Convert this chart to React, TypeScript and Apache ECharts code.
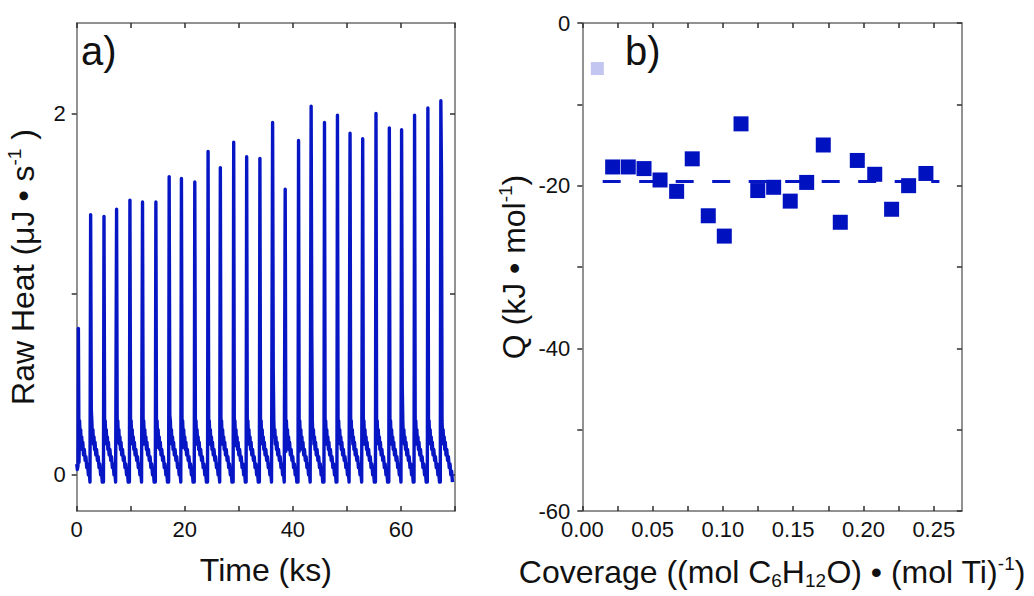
import React, { useEffect, useRef } from "react";
import * as echarts from "echarts";

const FONT = "'Liberation Sans', Arial, Helvetica, sans-serif";
const TRACE_BLUE = "#0716c4";
const POINT_BLUE = "#0012bf";
const FIRST_POINT = "#c2c6f0";
const FRAME = "#6e6e6e";
const TICK = "#2e2e2e";
const TEXT = "#111111";

// ---- (a) raw calorimeter signal: one heat pulse per dose ----
// dose times (ks), peak heights and the level the signal falls to right after each spike (µJ/s)
const pulseTimes = [
  0.31, 2.58, 5.05, 7.38, 9.85, 12.18, 14.65, 17.11, 19.38, 21.85, 24.31, 26.58, 29.05, 31.45,
  33.9, 36.25, 38.58, 41.05, 43.38, 45.85, 48.25, 50.58, 52.92, 55.38, 57.85, 60.12, 62.52,
  64.98, 67.38,
];
const pulsePeaks = [
  0.81, 1.44, 1.43, 1.47, 1.52, 1.51, 1.51, 1.65, 1.64, 1.62, 1.79, 1.7, 1.84, 1.76, 1.75, 1.95,
  1.58, 1.85, 2.04, 1.95, 1.99, 1.89, 1.86, 2.0, 1.92, 1.91, 1.99, 2.03, 2.07,
];
const pulseTails = [
  0.07, 0.36, 0.2, 0.18, 0.2, 0.17, 0.15, 0.33, 0.15, 0.17, 0.17, 0.17, 0.16, 0.17, 0.18, 0.57,
  0.13, 0.13, 0.78, 0.17, 0.2, 0.22, 0.17, 0.2, 0.17, 0.49, 0.17, 0.2, 1.66,
];
// signal before the first dose
const leadIn: [number, number][] = [
  [0, 0.06],
  [0.12, 0.03],
  [0.24, 0.05],
];
// relaxation back to baseline after a dose: time since the dose (ks) and signal (µJ/s)
const decayOffsets = [
  0.22, 0.32, 0.42, 0.52, 0.62, 0.72, 0.82, 0.95, 1.1, 1.25, 1.4, 1.55, 1.7, 1.85, 2.0, 2.15,
];
const decayLevels = [
  0.3, 0.21, 0.25, 0.17, 0.21, 0.14, 0.18, 0.11, 0.14, 0.08, 0.1, 0.04, 0.06, 0.0, 0.02, -0.04,
];

const timeTickValues = [0, 10, 20, 30, 40, 50, 60, 70];
const timeLabelValues = [0, 20, 40, 60];
const heatTickValues = [0, 1, 2];
const heatLabelValues = [0, 2];

// ---- (b) differential heat of adsorption vs coverage ----
const firstCoverage = [0.0107];
const firstHeat = [-5.6];
const coverage = [
  0.0216, 0.0327, 0.0439, 0.0553, 0.0671, 0.0782, 0.0896, 0.101, 0.1129, 0.1248, 0.1361, 0.1479,
  0.1596, 0.1714, 0.1835, 0.1956, 0.208, 0.22, 0.2321, 0.2444,
];
const heatQ = [
  -17.7, -17.7, -17.9, -19.3, -20.7, -16.7, -23.7, -26.2, -12.4, -20.6, -20.2, -21.9, -19.6,
  -15.0, -24.5, -16.9, -18.6, -22.9, -20.0, -18.5,
];
const meanHeat = -19.5;
const meanSpan = [0.0145, 0.254];

const coverageTickValues = [0, 0.025, 0.05, 0.075, 0.1, 0.125, 0.15, 0.175, 0.2, 0.225, 0.25];
const coverageLabelValues = [0, 0.05, 0.1, 0.15, 0.2, 0.25];

function buildTrace(): [number, number][] {
  const pts: [number, number][] = leadIn.map((p) => [p[0], p[1]] as [number, number]);
  pulseTimes.forEach((t, i) => {
    pts.push([t - 0.1, pts[pts.length - 1][1]]);
    pts.push([t, pulsePeaks[i]]);
    pts.push([t + 0.12, pulseTails[i]]);
    decayOffsets.forEach((off, k) => pts.push([t + off, decayLevels[k]]));
  });
  return pts;
}

const frameLine = { show: true, onZero: false, lineStyle: { color: FRAME, width: 1.5 } };
const tickStyle = { color: TICK, width: 1.5 };
const tickLabel = { fontSize: 22, fontFamily: FONT, color: TEXT };
const nameStyle = { fontSize: 32, fontFamily: FONT, color: TEXT };
const supStyle = { fontSize: 19, fontFamily: FONT, color: TEXT, verticalAlign: "top", lineHeight: 14 };
const subStyle = { fontSize: 19, fontFamily: FONT, color: TEXT, verticalAlign: "bottom", lineHeight: 14 };

export default function App() {
  const ref = useRef<HTMLDivElement>(null);

  useEffect(() => {
    if (!ref.current) return;
    const chart = echarts.init(ref.current, undefined, { renderer: "svg" });

    const option: any = {
      animation: false,
      backgroundColor: "#ffffff",
      grid: [
        { left: 76.7, top: 23, width: 378.3, height: 488, containLabel: false },
        { left: 582.3, top: 23, width: 379.6, height: 488, containLabel: false },
      ],
      xAxis: [
        {
          gridIndex: 0,
          type: "value",
          position: "bottom",
          min: 0,
          max: 70,
          axisLine: frameLine,
          axisTick: { show: true, inside: true, length: 5, lineStyle: tickStyle, customValues: timeTickValues },
          axisLabel: { ...tickLabel, margin: 7, customValues: timeLabelValues },
          splitLine: { show: false },
          name: "Time (ks)",
          nameLocation: "middle",
          nameGap: 43,
          nameTextStyle: nameStyle,
        },
        {
          gridIndex: 0,
          type: "value",
          position: "top",
          min: 0,
          max: 70,
          axisLine: frameLine,
          axisTick: { show: true, inside: true, length: 5, lineStyle: tickStyle, customValues: timeTickValues },
          axisLabel: { show: false },
          splitLine: { show: false },
        },
        {
          gridIndex: 1,
          type: "value",
          position: "bottom",
          min: 0,
          max: 0.27,
          axisLine: frameLine,
          axisTick: { show: true, inside: true, length: 5, lineStyle: tickStyle, customValues: coverageTickValues },
          axisLabel: {
            ...tickLabel,
            margin: 7,
            customValues: coverageLabelValues,
            formatter: (v: number) => v.toFixed(2),
          },
          splitLine: { show: false },
          name: "Coverage ((mol C{sub|6}H{sub|12}O) • (mol Ti){sup|-1})",
          nameLocation: "middle",
          nameGap: 43,
          nameTextStyle: { ...nameStyle, lineHeight: 36, rich: { sub: subStyle, sup: supStyle } },
        },
        {
          gridIndex: 1,
          type: "value",
          position: "top",
          min: 0,
          max: 0.27,
          axisLine: frameLine,
          axisTick: { show: true, inside: true, length: 5, lineStyle: tickStyle, customValues: coverageTickValues },
          axisLabel: { show: false },
          splitLine: { show: false },
        },
      ],
      yAxis: [
        {
          gridIndex: 0,
          type: "value",
          position: "left",
          min: -0.2,
          max: 2.5,
          axisLine: frameLine,
          axisTick: { show: true, inside: false, length: 5, lineStyle: tickStyle, customValues: heatTickValues },
          axisLabel: { ...tickLabel, margin: 11, customValues: heatLabelValues },
          splitLine: { show: false },
          name: "Raw Heat (μJ • s{sup|-1} )",
          nameLocation: "middle",
          nameGap: 36,
          nameTextStyle: { ...nameStyle, lineHeight: 36, rich: { sup: supStyle } },
        },
        {
          gridIndex: 0,
          type: "value",
          position: "right",
          min: -0.2,
          max: 2.5,
          axisLine: frameLine,
          axisTick: { show: true, inside: true, length: 5, lineStyle: tickStyle, customValues: heatTickValues },
          axisLabel: { show: false },
          splitLine: { show: false },
        },
        {
          gridIndex: 1,
          type: "value",
          position: "left",
          min: -60,
          max: 0,
          interval: 10,
          axisLine: frameLine,
          axisTick: { show: true, inside: false, length: 5, lineStyle: tickStyle },
          axisLabel: {
            ...tickLabel,
            margin: 12,
            formatter: (v: number) => (Math.round(v) % 20 === 0 ? String(Math.round(v)) : ""),
          },
          splitLine: { show: false },
          name: "Q (kJ • mol{sup|-1})",
          nameLocation: "middle",
          nameGap: 50,
          nameTextStyle: { ...nameStyle, lineHeight: 36, rich: { sup: supStyle } },
        },
        {
          gridIndex: 1,
          type: "value",
          position: "right",
          min: -60,
          max: 0,
          interval: 10,
          axisLine: frameLine,
          axisTick: { show: true, inside: true, length: 5, lineStyle: tickStyle },
          axisLabel: { show: false },
          splitLine: { show: false },
        },
      ],
      graphic: [
        {
          type: "text",
          x: 81,
          y: 31,
          style: { text: "a)", fontSize: 40, fontFamily: FONT, fill: TEXT, verticalAlign: "top" },
        },
        {
          type: "text",
          x: 625,
          y: 31,
          style: { text: "b)", fontSize: 40, fontFamily: FONT, fill: TEXT, verticalAlign: "top" },
        },
      ],
      series: [
        {
          name: "Raw heat",
          type: "line",
          xAxisIndex: 0,
          yAxisIndex: 0,
          data: buildTrace(),
          showSymbol: false,
          symbol: "none",
          lineStyle: { color: TRACE_BLUE, width: 3.4, join: "round" },
          z: 3,
        },
        {
          name: "Mean heat",
          type: "line",
          xAxisIndex: 2,
          yAxisIndex: 2,
          data: meanSpan.map((x) => [x, meanHeat]),
          showSymbol: false,
          symbol: "none",
          lineStyle: { color: TRACE_BLUE, width: 3, type: [18, 18.5] },
          z: 2,
        },
        {
          name: "First dose",
          type: "scatter",
          xAxisIndex: 2,
          yAxisIndex: 2,
          symbol: "rect",
          symbolSize: 13,
          data: firstCoverage.map((x, i) => [x, firstHeat[i]]),
          itemStyle: { color: FIRST_POINT, opacity: 1 },
          z: 4,
        },
        {
          name: "Q",
          type: "scatter",
          xAxisIndex: 2,
          yAxisIndex: 2,
          symbol: "rect",
          symbolSize: 15,
          data: coverage.map((x, i) => [x, heatQ[i]]),
          itemStyle: { color: POINT_BLUE, opacity: 1 },
          z: 4,
        },
      ],
    };

    chart.setOption(option);
    return () => chart.dispose();
  }, []);

  return (
    <div
      ref={ref}
      style={{ position: "fixed", left: 0, top: 0, width: 1034, height: 596, background: "#ffffff" }}
    />
  );
}
